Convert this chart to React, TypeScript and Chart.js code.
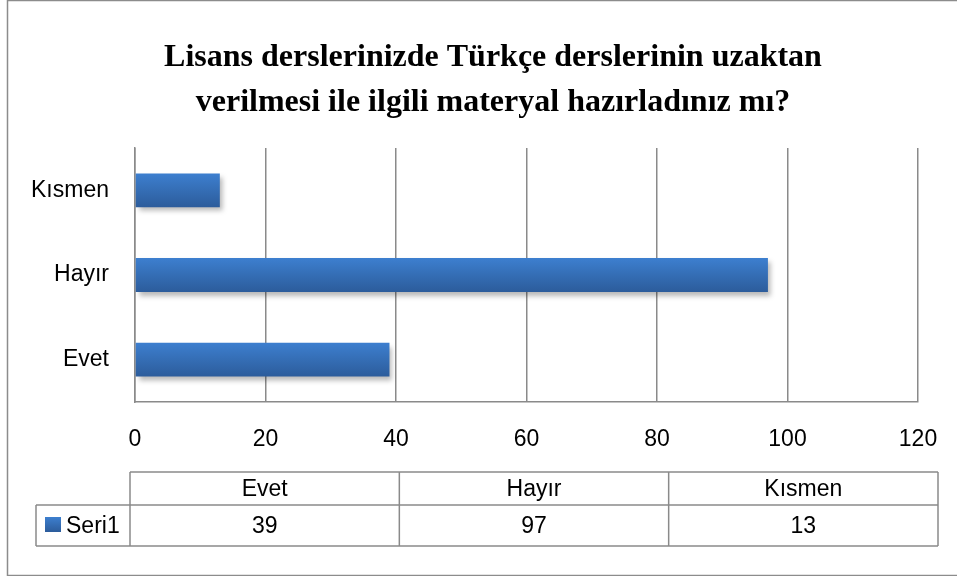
import React, { useEffect, useRef } from "react";
import { Chart, registerables } from "chart.js";

Chart.register(...registerables);

const titleLines = [
  "Lisans derslerinizde Türkçe derslerinin uzaktan",
  "verilmesi ile ilgili materyal hazırladınız mı?",
];
const categories = ["Evet", "Hayır", "Kısmen"];
const seriesName = "Seri1";
const seriesValues = [39, 97, 13];
const xMin = 0;
const xMax = 120;
const xStep = 20;

const LABEL_FONT = "'Liberation Sans', Arial, sans-serif";
const LABEL_SIZE = 23;
const GRAY = "#8a8a8a";

const decorPlugin = {
  id: "decor",
  beforeDatasetsDraw(chart: any) {
    const ctx = chart.ctx;
    const meta = chart.getDatasetMeta(0);
    meta.data.forEach((el: any) => {
      const top = el.y - el.height / 2;
      const g = ctx.createLinearGradient(0, top, 0, top + el.height);
      g.addColorStop(0, "#3d7fcf");
      g.addColorStop(1, "#2c5c9b");
      el.options = { ...el.options, backgroundColor: g };
    });
    ctx.save();
    ctx.shadowColor = "rgba(0,0,0,0.28)";
    ctx.shadowBlur = 5;
    ctx.shadowOffsetX = 3;
    ctx.shadowOffsetY = 4;
  },
  afterDatasetsDraw(chart: any) {
    chart.ctx.restore();
  },
  afterDraw(chart: any) {
    const ctx = chart.ctx;
    ctx.save();
    // outer frame
    ctx.strokeStyle = "#8c8c8c";
    ctx.lineWidth = 1.5;
    ctx.strokeRect(7.5, 0.5, 970, 575);

    // title
    ctx.fillStyle = "#000";
    ctx.font = "bold 32px 'Liberation Serif', 'Times New Roman', serif";
    ctx.textAlign = "center";
    ctx.textBaseline = "middle";
    ctx.fillText(titleLines[0], 493, 58);
    ctx.fillText(titleLines[1], 493, 103);

    // data table
    const tLeft = 130;
    const tRight = 938;
    const legLeft = 36;
    const yTop = 472;
    const yMid = 505;
    const yBot = 546;
    const colW = (tRight - tLeft) / categories.length;
    ctx.strokeStyle = GRAY;
    ctx.lineWidth = 1.5;
    ctx.beginPath();
    ctx.moveTo(tLeft, yTop);
    ctx.lineTo(tRight, yTop);
    ctx.moveTo(legLeft, yMid);
    ctx.lineTo(tRight, yMid);
    ctx.moveTo(legLeft, yBot);
    ctx.lineTo(tRight, yBot);
    ctx.moveTo(legLeft, yMid);
    ctx.lineTo(legLeft, yBot);
    for (let i = 0; i <= categories.length; i++) {
      const x = tLeft + i * colW;
      ctx.moveTo(x, yTop);
      ctx.lineTo(x, yBot);
    }
    ctx.stroke();

    ctx.font = `${LABEL_SIZE}px ${LABEL_FONT}`;
    ctx.fillStyle = "#000";
    categories.forEach((c, i) => {
      const cx = tLeft + (i + 0.5) * colW;
      ctx.fillText(c, cx, (yTop + yMid) / 2 + 1);
      ctx.fillText(String(seriesValues[i]), cx, (yMid + yBot) / 2 + 1);
    });
    // legend key
    const g = ctx.createLinearGradient(0, 517, 0, 532);
    g.addColorStop(0, "#3d7fcf");
    g.addColorStop(1, "#2c5c9b");
    ctx.fillStyle = g;
    ctx.fillRect(45, 517, 16, 15);
    ctx.fillStyle = "#000";
    ctx.textAlign = "left";
    ctx.fillText(seriesName, 66, (yMid + yBot) / 2 + 1);
    ctx.restore();
  },
};

export default function App() {
  const canvasRef = useRef<HTMLCanvasElement | null>(null);

  useEffect(() => {
    if (!canvasRef.current) return;
    const chart = new Chart(canvasRef.current, {
      type: "bar",
      data: {
        labels: categories,
        datasets: [
          {
            label: seriesName,
            data: seriesValues,
            backgroundColor: "#3570b8",
            borderWidth: 0,
            categoryPercentage: 1,
            barPercentage: 0.4,
          },
        ],
      },
      options: {
        indexAxis: "y",
        animation: false,
        responsive: false,
        maintainAspectRatio: false,
        layout: { padding: { left: 0, right: 39, top: 148, bottom: 114 } },
        plugins: {
          legend: { display: false },
          title: { display: false },
          tooltip: { enabled: false },
        },
        scales: {
          x: {
            min: xMin,
            max: xMax,
            ticks: {
              stepSize: xStep,
              color: "#000",
              padding: 24,
              font: { family: LABEL_FONT, size: LABEL_SIZE },
            },
            grid: { color: GRAY, lineWidth: 1.5, drawTicks: false },
            border: { display: true, color: GRAY, width: 1.5 },
            afterFit: (s: any) => {
              s.height = 60;
              s.paddingLeft = 0;
              s.paddingRight = 0;
            },
          },
          y: {
            reverse: true,
            ticks: {
              color: "#000",
              padding: 26,
              font: { family: LABEL_FONT, size: LABEL_SIZE },
            },
            grid: { display: false, drawTicks: false },
            border: { display: true, color: GRAY, width: 1.5 },
            afterFit: (s: any) => {
              s.width = 135;
              s.paddingTop = 0;
              s.paddingBottom = 0;
            },
          },
        },
      },
      plugins: [decorPlugin],
    });
    return () => chart.destroy();
  }, []);

  return (
    <div style={{ position: "absolute", left: 0, top: 0, width: 957, height: 576, background: "#fff" }}>
      <canvas ref={canvasRef} width={957} height={576} style={{ width: 957, height: 576, display: "block" }} />
    </div>
  );
}
